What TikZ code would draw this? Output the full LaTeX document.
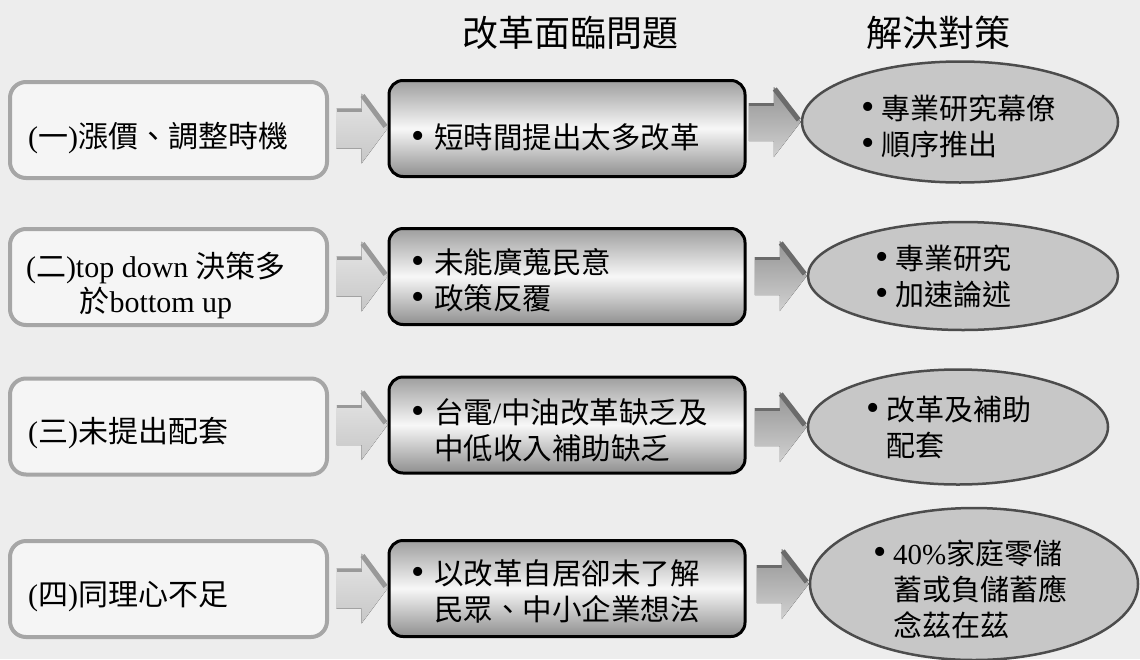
\documentclass[tikz,border=0pt]{standalone}
\usepackage{fontspec}
\setmainfont{Liberation Serif}
\newfontfamily\cjk{Noto Sans CJK TC}
\usetikzlibrary{shapes.geometric,calc}
\newcommand\zh[1]{{\cjk #1}}
\newcommand\bulA{\makebox[23pt][l]{\fontsize{38}{38}\selectfont •}}
\newcommand\bulB{\makebox[20pt][l]{\fontsize{38}{38}\selectfont •}}
% block arrow: #1 target node, #2 tail dx, #3 head base dx, #4 shaft half, #5 head half, #6 top colour, #7 bottom colour, #8 band colour
\newcommand\blockarrow[8]{%
  \coordinate (tip) at (#1.west);
  \fill[top color=#6, bottom color=#7]
    ($(tip)+(#2,-#4)$) -- ($(tip)+(#3,-#4)$) -- ($(tip)+(#3,-#5)$) -- (tip)
    -- ($(tip)+(#3,#5)$) -- ($(tip)+(#3,#4)$) -- ($(tip)+(#2,#4)$) -- cycle;
  \draw[line width=3pt, #8] ($(tip)+(#2,-#4+1.5)$) -- ($(tip)+(#3,-#4+1.5)$);
  \draw[line width=5pt, #8] ($(tip)+(#3+1,-#5+2)$) -- ($(tip)+(-2,-2)$);
}
\begin{document}
\begin{tikzpicture}[x=1pt,y=-1pt,
  leftbox/.style={draw=black!35, line width=4pt, fill=black!4, rounded corners=16pt,
    minimum width=317pt, minimum height=96pt, inner sep=0pt},
  midbox/.style={draw=black, line width=3pt, rounded corners=14pt,
    top color=black!38, bottom color=black!44, middle color=black!3,
    minimum width=356pt, minimum height=96pt, inner sep=0pt},
  solbox/.style={ellipse, draw=black!70, line width=2.5pt, fill=black!22, inner sep=0pt},
  hdr/.style={font=\cjk\fontsize{36}{36}\selectfont, inner sep=0pt},
  ltxt/.style={font=\fontsize{30}{35}\selectfont, inner sep=0pt, align=left, anchor=west},
  mtxt/.style={font=\fontsize{29.5}{36}\selectfont, inner sep=0pt, align=left, anchor=west},
  stxt/.style={font=\fontsize{29}{36}\selectfont, inner sep=0pt, align=left, anchor=west},
]
\fill[black!7] (0,0) rectangle (1140,659);
\useasboundingbox (0,0) rectangle (1140,659);

% headers
\node[hdr] (h1) at (570,33) {改革面臨問題};
\node[hdr] (h2) at (938,33) {解決對策};

% left boxes
\node[leftbox] (l1) at (168.5,130) {};
\node[leftbox] (l2) at (168.5,277) {};
\node[leftbox] (l3) at (168.5,426.5) {};
\node[leftbox] (l4) at (168.5,589) {};

% middle boxes
\node[midbox] (m1) at (567,128.5) {};
\node[midbox] (m2) at (567,276.5) {};
\node[midbox] (m3) at (567,425) {};
\node[midbox] (m4) at (567,588.5) {};

% solution ellipses
\node[solbox, minimum width=316pt, minimum height=121pt] (s1) at (960,122) {};
\node[solbox, minimum width=310pt, minimum height=108pt] (s2) at (963,276) {};
\node[solbox, minimum width=300pt, minimum height=115pt] (s3) at (958,427) {};
\node[solbox, minimum width=328pt, minimum height=152pt] (s4) at (974,584) {};

% arrows left -> middle
\blockarrow{m1}{-51}{-26}{20}{35}{black!10}{black!22}{black!40}
\blockarrow{m2}{-51}{-26}{20}{35}{black!10}{black!22}{black!40}
\blockarrow{m3}{-51}{-26}{20}{35}{black!10}{black!22}{black!40}
\blockarrow{m4}{-51}{-26}{20}{35}{black!10}{black!22}{black!40}
% arrows middle -> ellipses
\blockarrow{s1}{-52}{-27}{19}{35}{black!42}{black!18}{black!58}
\blockarrow{s2}{-52}{-27}{19}{35}{black!42}{black!18}{black!58}
\blockarrow{s3}{-52}{-27}{19}{35}{black!42}{black!18}{black!58}
\blockarrow{s4}{-52}{-27}{19}{35}{black!42}{black!18}{black!58}

% left texts
\node[ltxt] (l1t) at (28,138) {(\zh{一})\zh{漲價、調整時機}};
\node[ltxt, align=center, anchor=center] (l2t) at (156,285) {(\zh{二})top down \zh{決策多}\\\zh{於}bottom up};
\node[ltxt] (l3t) at (28,433) {(\zh{三})\zh{未提出配套}};
\node[ltxt] (l4t) at (28,597) {(\zh{四})\zh{同理心不足}};

% middle texts
\node[mtxt] (m1t) at (411,137) {\bulA\zh{短時間提出太多改革}};
\node[mtxt] (m2t) at (411,280) {\bulA\zh{未能廣蒐民意}\\\bulA\zh{政策反覆}};
\node[mtxt] (m3t) at (411,430) {\bulA\zh{台電}/\zh{中油改革缺乏及}\\\hspace*{23pt}\zh{中低收入補助缺乏}};
\node[mtxt] (m4t) at (411,591) {\bulA\zh{以改革自居卻未了解}\\\hspace*{23pt}\zh{民眾、中小企業想法}};

% ellipse texts
\node[stxt] (s1t) at (861,126) {\bulB\zh{專業研究幕僚}\\\bulB\zh{順序推出}};
\node[stxt] (s2t) at (875,277) {\bulB\zh{專業研究}\\\bulB\zh{加速論述}};
\node[stxt] (s3t) at (866,427) {\bulB\zh{改革及補助}\\\hspace*{20pt}\zh{配套}};
\node[stxt] (s4t) at (873,589) {\bulB 40\%\zh{家庭零儲}\\\hspace*{20pt}\zh{蓄或負儲蓄應}\\\hspace*{20pt}\zh{念茲在茲}};
\end{tikzpicture}
\end{document}
